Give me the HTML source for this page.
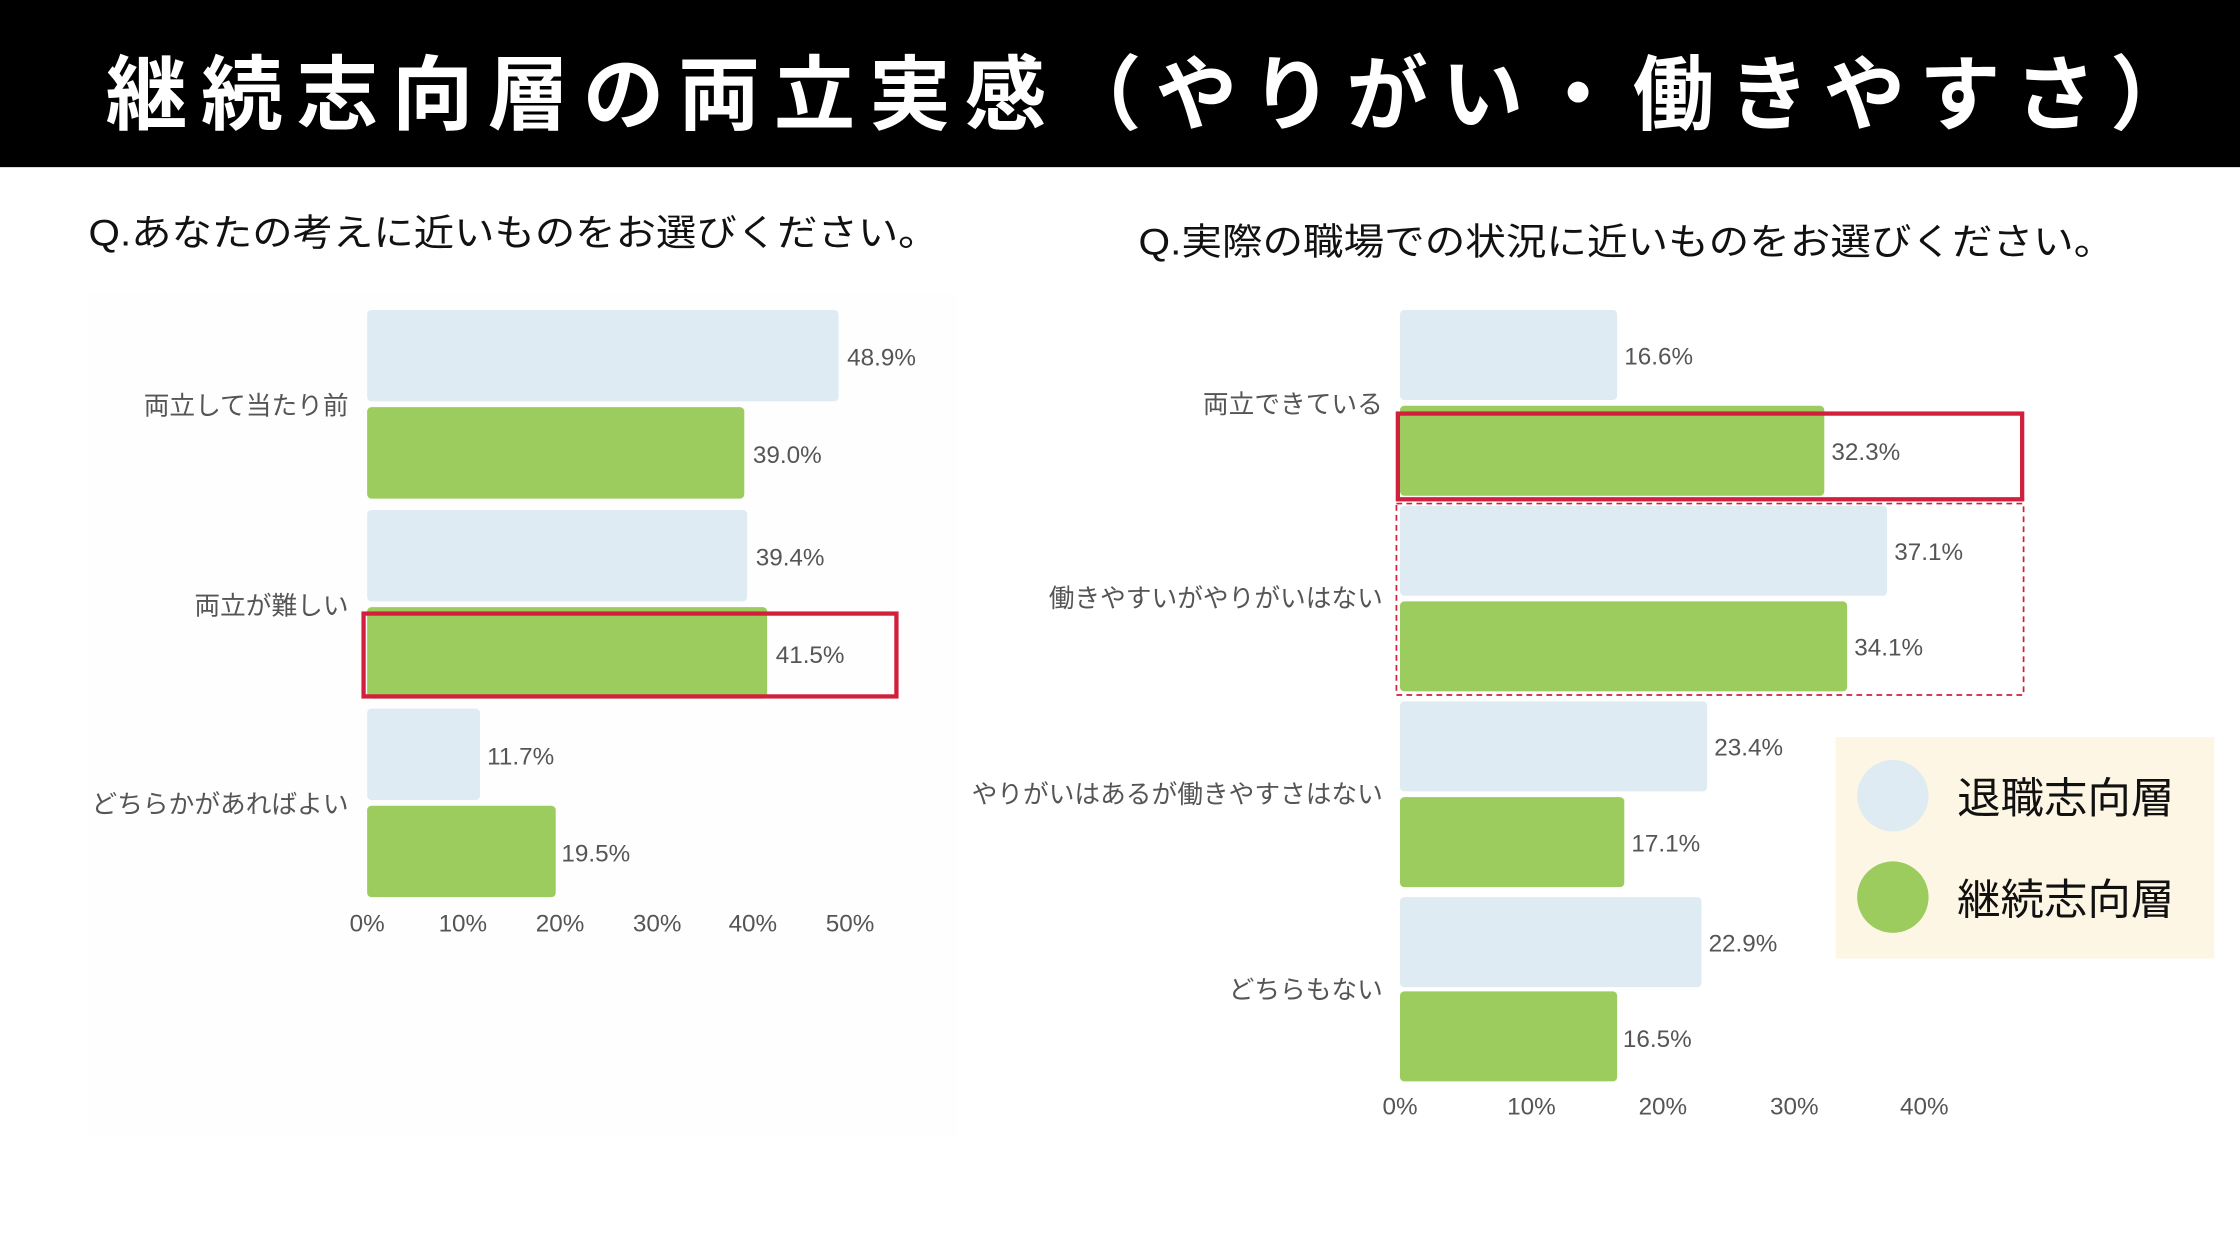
<!DOCTYPE html>
<html><head><meta charset="utf-8"><style>
html,body{margin:0;padding:0;background:#fff;}
svg{display:block;}
text{font-family:"Liberation Sans","Noto Sans CJK JP",sans-serif;}
</style></head><body>
<svg width="2240" height="1260" viewBox="0 0 1568 882" xmlns="http://www.w3.org/2000/svg">
<rect x="0" y="0" width="1568" height="117" fill="#000"/>
<text x="74" y="86" font-size="57" font-weight="bold" fill="#fff" textLength="1460" lengthAdjust="spacing">継続志向層の両立実感（やりがい・働きやすさ）</text>

<text x="62" y="172" font-size="26" fill="#111" textLength="595" lengthAdjust="spacingAndGlyphs">Q.あなたの考えに近いものをお選びください。</text>
<text x="797" y="178" font-size="26" fill="#111" textLength="683" lengthAdjust="spacingAndGlyphs">Q.実際の職場での状況に近いものをお選びください。</text>

<!-- left chart -->
<rect x="62" y="205" width="608" height="590" fill="#fefefe"/>
<g fill="#dfebf3">
<rect x="257" y="217" width="330" height="64" rx="3"/>
<rect x="257" y="357" width="266" height="64" rx="3"/>
<rect x="257" y="496" width="79" height="64" rx="3"/>
</g>
<g fill="#9ccb5e">
<rect x="257" y="285" width="264" height="64" rx="3"/>
<rect x="257" y="425" width="280" height="64" rx="3"/>
<rect x="257" y="564" width="132" height="64" rx="3"/>
</g>
<g font-size="17" fill="#555">
<text x="593" y="256">48.9%</text>
<text x="527" y="324">39.0%</text>
<text x="529" y="396">39.4%</text>
<text x="543" y="464">41.5%</text>
<text x="341" y="535">11.7%</text>
<text x="393" y="603">19.5%</text>
</g>
<g font-size="18" fill="#555" text-anchor="end">
<text x="244" y="290">両立して当たり前</text>
<text x="244" y="430">両立が難しい</text>
<text x="244" y="569">どちらかがあればよい</text>
</g>
<g font-size="17" fill="#555" text-anchor="middle">
<text x="257" y="652">0%</text><text x="324" y="652">10%</text><text x="392" y="652">20%</text>
<text x="460" y="652">30%</text><text x="527" y="652">40%</text><text x="595" y="652">50%</text>
</g>
<rect x="254.5" y="429.5" width="373" height="58" fill="none" stroke="#d21f3c" stroke-width="3"/>

<!-- right chart -->
<g fill="#dfebf3">
<rect x="980" y="217" width="152" height="63" rx="3"/>
<rect x="980" y="354" width="341" height="63" rx="3"/>
<rect x="980" y="491" width="215" height="63" rx="3"/>
<rect x="980" y="628" width="211" height="63" rx="3"/>
</g>
<g fill="#9ccb5e">
<rect x="980" y="284" width="297" height="63" rx="3"/>
<rect x="980" y="421" width="313" height="63" rx="3"/>
<rect x="980" y="558" width="157" height="63" rx="3"/>
<rect x="980" y="694" width="152" height="63" rx="3"/>
</g>
<g font-size="17" fill="#555">
<text x="1137" y="255">16.6%</text>
<text x="1282" y="322">32.3%</text>
<text x="1326" y="392">37.1%</text>
<text x="1298" y="459">34.1%</text>
<text x="1200" y="529">23.4%</text>
<text x="1142" y="596">17.1%</text>
<text x="1196" y="666">22.9%</text>
<text x="1136" y="733">16.5%</text>
</g>
<g font-size="18" fill="#555" text-anchor="end">
<text x="968" y="289">両立できている</text>
<text x="968" y="425">働きやすいがやりがいはない</text>
<text x="968" y="562">やりがいはあるが働きやすさはない</text>
<text x="968" y="699">どちらもない</text>
</g>
<g font-size="17" fill="#555" text-anchor="middle">
<text x="980" y="780">0%</text><text x="1072" y="780">10%</text><text x="1164" y="780">20%</text>
<text x="1256" y="780">30%</text><text x="1347" y="780">40%</text>
</g>
<rect x="978.5" y="289.5" width="437" height="60" fill="none" stroke="#d21f3c" stroke-width="3"/>
<rect x="977.5" y="352.5" width="439" height="134" fill="none" stroke="#d21f3c" stroke-width="1.2" stroke-dasharray="4,3"/>

<!-- legend -->
<rect x="1285" y="516" width="265" height="155" fill="#fdf6e4"/>
<circle cx="1325" cy="557" r="25" fill="#dfebf3"/>
<circle cx="1325" cy="628" r="25" fill="#9ccb5e"/>
<text x="1370" y="569" font-size="30" fill="#111" textLength="152" lengthAdjust="spacingAndGlyphs">退職志向層</text>
<text x="1370" y="640" font-size="30" fill="#111" textLength="152" lengthAdjust="spacingAndGlyphs">継続志向層</text>
</svg>
</body></html>
